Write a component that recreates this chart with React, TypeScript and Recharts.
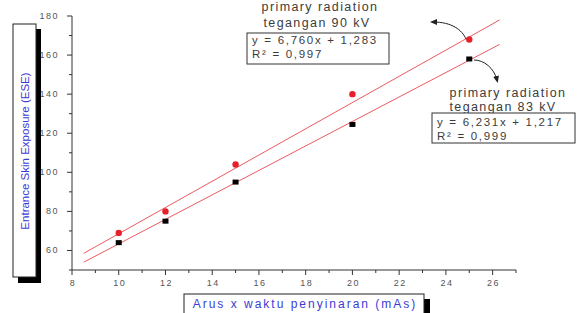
import React from 'react';
import { ComposedChart, Scatter, XAxis, YAxis } from 'recharts';

// measured values (mAs vs ESE)
const mas = [10, 12, 15, 20, 25];
const ese90 = [69, 80, 104, 140, 168];
const ese83 = [64, 75, 95, 124.5, 158];

// end points of the two fitted lines
const fitX = [8.5, 26.3];
const fit90 = [58.5, 178];
const fit83 = [54, 165.5];

const xTicks = [8, 9, 10, 11, 12, 13, 14, 15, 16, 17, 18, 19, 20, 21, 22, 23, 24, 25, 26, 27];
const yTicks = [50, 60, 70, 80, 90, 100, 110, 120, 130, 140, 150, 160, 170, 180];

const pts90 = mas.map((x, i) => ({ x, y: ese90[i] }));
const pts83 = mas.map((x, i) => ({ x, y: ese83[i] }));
const line90 = fitX.map((x, i) => ({ x, y: fit90[i] }));
const line83 = fitX.map((x, i) => ({ x, y: fit83[i] }));

const FONT = '"Liberation Sans", Arial, sans-serif';
const BLUE = '#3b3bd6';
const GREY = '#555';
const TXT = '#3c3c3c';

const YTick = (props: any) => {
  const { x, y, payload } = props;
  const v = payload.value;
  const major = v >= 60 && (v - 60) % 20 === 0;
  return (
    <g>
      <line x1={x - (major ? 5 : 3)} x2={x} y1={y} y2={y} stroke="#333" />
      {major && (
        <text x={x - 13} y={y + 3} textAnchor="end" fontSize={9} letterSpacing={1.5} fill={GREY} fontFamily={FONT}>
          {v}
        </text>
      )}
    </g>
  );
};

const XTick = (props: any) => {
  const { x, y, payload } = props;
  const v = payload.value;
  const major = v % 2 === 0;
  return (
    <g>
      <line x1={x} x2={x} y1={y} y2={y + (major ? 5 : 3)} stroke="#333" />
      {major && (
        <text x={x + 1} y={y + 16} textAnchor="middle" fontSize={9} letterSpacing={1.5} fill={GREY} fontFamily={FONT}>
          {v}
        </text>
      )}
    </g>
  );
};

const RedDot = (props: any) => <circle cx={props.cx} cy={props.cy} r={3.2} fill="#e8202a" />;
const BlackSq = (props: any) => <rect x={props.cx - 3} y={props.cy - 2.5} width={6} height={5} fill="#000" />;
const NoDot = () => <g />;

export default function App() {
  return (
    <div style={{ position: 'fixed', left: 0, top: 0, width: 577, height: 313, background: '#fff' }}>
      <ComposedChart width={577} height={313} margin={{ top: 16, right: 61, bottom: 0, left: 0 }}>
        <XAxis
          type="number"
          dataKey="x"
          domain={[8, 27]}
          ticks={xTicks}
          interval={0}
          height={43}
          tickSize={0}
          tickMargin={0}
          tick={<XTick />}
          stroke="#333"
        />
        <YAxis
          type="number"
          dataKey="y"
          domain={[50, 180]}
          ticks={yTicks}
          interval={0}
          width={72}
          tickSize={0}
          tickMargin={0}
          tick={<YTick />}
          stroke="#333"
        />
        <Scatter data={line90} line={{ stroke: '#ec5a60', strokeWidth: 1 }} lineType="joint" shape={<NoDot />} isAnimationActive={false} />
        <Scatter data={line83} line={{ stroke: '#ec5a60', strokeWidth: 1 }} lineType="joint" shape={<NoDot />} isAnimationActive={false} />
        <Scatter data={pts90} shape={<RedDot />} isAnimationActive={false} />
        <Scatter data={pts83} shape={<BlackSq />} isAnimationActive={false} />
      </ComposedChart>

      <svg width={577} height={313} style={{ position: 'absolute', left: 0, top: 0, pointerEvents: 'none' }} fontFamily={FONT}>
        <defs>
          <marker id="ah" markerWidth="8" markerHeight="8" refX="4" refY="4" orient="auto">
            <path d="M0,1 L7,4 L0,7 z" fill="#222" />
          </marker>
        </defs>

        {/* y axis title box */}
        <rect x={18} y={29} width={23} height={254} fill="#000" />
        <rect x={13} y={24} width={23} height={253} fill="#fff" stroke="#222" strokeWidth={1} />
        <text transform="translate(29,151) rotate(-90)" textAnchor="middle" fontSize={11.5} fill={BLUE}>
          Entrance Skin Exposure (ESE)
        </text>

        {/* x axis title box */}
        <rect x={189} y={299} width={241} height={20} fill="#000" />
        <rect x={184} y={294} width={240} height={22} fill="#fff" stroke="#222" strokeWidth={1} />
        <text x={305} y={308} textAnchor="middle" fontSize={12} letterSpacing={2} fill={BLUE}>
          Arus x waktu penyinaran (mAs)
        </text>

        {/* 90 kV annotation */}
        <text x={320} y={11} textAnchor="middle" fontSize={12.5} letterSpacing={1.4} fill={TXT}>primary radiation</text>
        <text x={317} y={27} textAnchor="middle" fontSize={12.5} letterSpacing={1.4} fill={TXT}>tegangan 90 kV</text>
        <rect x={247} y={33} width={142} height={31} fill="#fff" stroke="#333" strokeWidth={1} />
        <text x={252} y={44} fontSize={11.5} letterSpacing={1.7} fill={TXT}>y = 6,760x + 1,283</text>
        <text x={252} y={58} fontSize={11.5} letterSpacing={1.7} fill={TXT}>R² = 0,997</text>

        {/* 83 kV annotation */}
        <text x={508} y={97} textAnchor="middle" fontSize={12.5} letterSpacing={1.4} fill={TXT}>primary radiation</text>
        <text x={503} y={111} textAnchor="middle" fontSize={12.5} letterSpacing={1.4} fill={TXT}>tegangan 83 kV</text>
        <rect x={432} y={113} width={143} height={30} fill="#fff" stroke="#333" strokeWidth={1} />
        <text x={437} y={126} fontSize={11.5} letterSpacing={1.7} fill={TXT}>y = 6,231x + 1,217</text>
        <text x={437} y={140} fontSize={11.5} letterSpacing={1.7} fill={TXT}>R² = 0,999</text>

        {/* arrows */}
        <path d="M466,39 C462,30 452,22 433,22" fill="none" stroke="#222" strokeWidth={1} markerEnd="url(#ah)" />
        <path d="M474,60 C484,60 494,68 497,80" fill="none" stroke="#222" strokeWidth={1} markerEnd="url(#ah)" />
      </svg>
    </div>
  );
}
